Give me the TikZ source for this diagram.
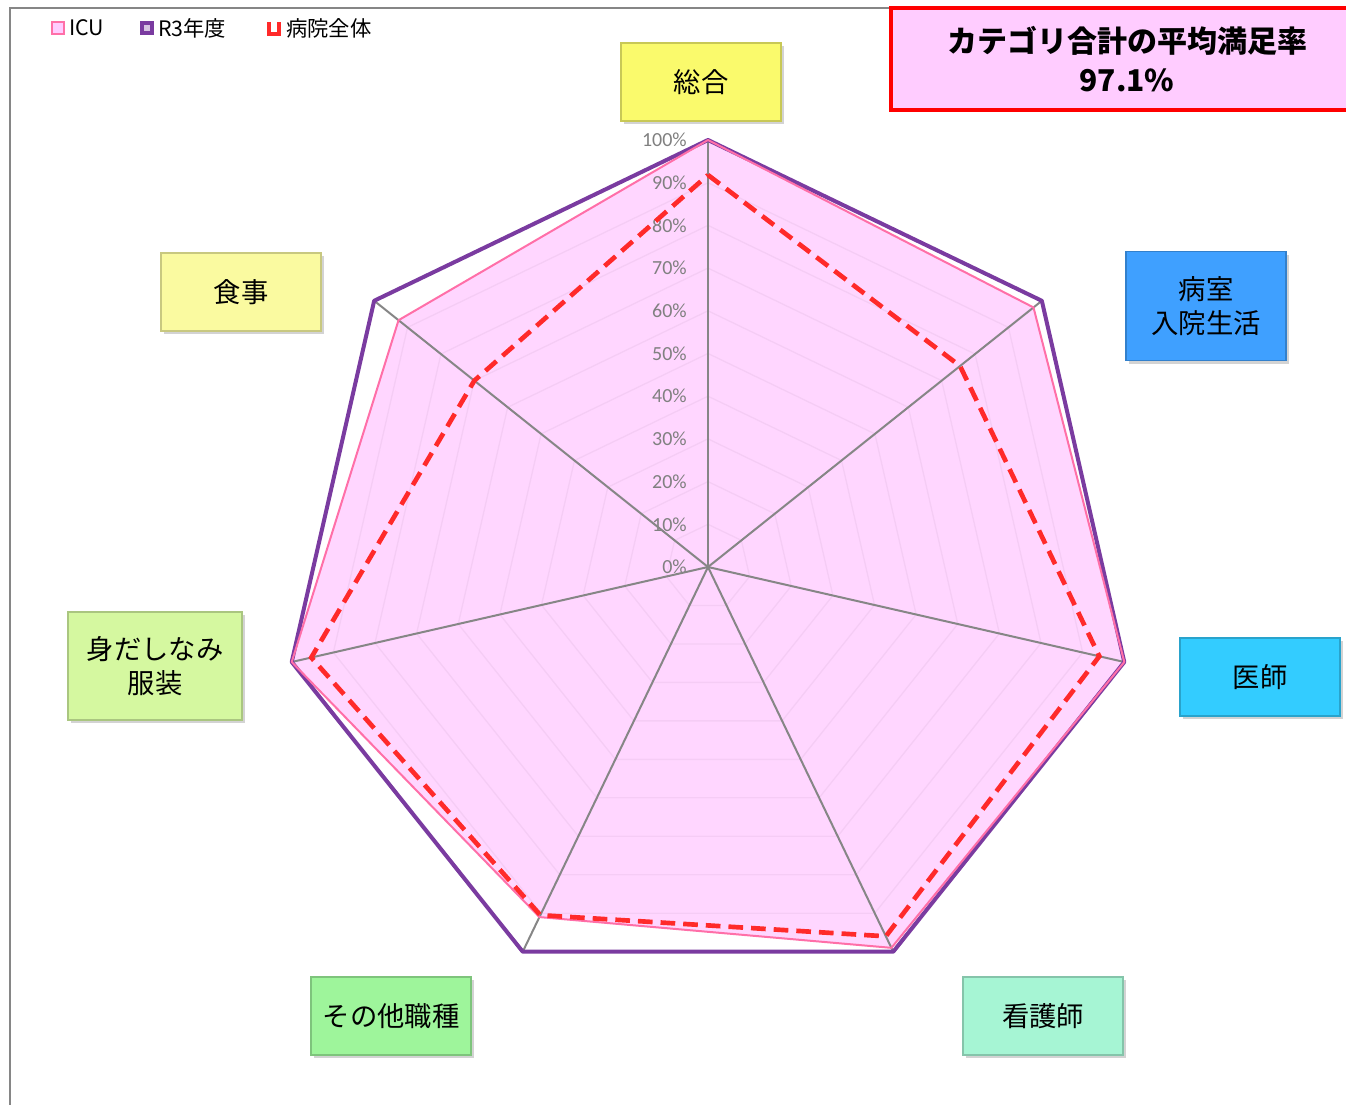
\documentclass[tikz,border=0pt]{standalone}
\usepackage{fontspec}
\setmainfont{Noto Sans CJK JP}
\newfontfamily\tickfont{Carlito}
\usepackage{tikz}
\usetikzlibrary{positioning,shadows}

\definecolor{icupink}{HTML}{FF6FA8}
\definecolor{icufill}{HTML}{FFCCFF}
\definecolor{rpurple}{HTML}{7A3BA0}
\definecolor{hospred}{HTML}{FF2A2A}
\definecolor{spokegray}{HTML}{868686}
\definecolor{gridgray}{HTML}{CFCFCF}
\definecolor{sogofill}{HTML}{FAFA6C}
\definecolor{byoshitsufill}{HTML}{3FA0FF}
\definecolor{ishifill}{HTML}{33CCFF}
\definecolor{kangofill}{HTML}{A6F5D4}
\definecolor{sonotafill}{HTML}{9EF59B}
\definecolor{midashifill}{HTML}{D5F8A0}
\definecolor{shokujifill}{HTML}{FAFAA0}

\tikzset{
  catbox/.style={draw=#1!80!black, fill=#1, line width=0.8pt, minimum width=120pt, minimum height=58.5pt,
    align=center, font=\fontsize{20.5}{26}\selectfont, drop shadow={shadow xshift=2pt, shadow yshift=-2.5pt, opacity=0.35}},
  ticklabel/.style={anchor=east, inner sep=0pt, text=gray, font=\tickfont\fontsize{15}{15}\selectfont},
  legendtext/.style={anchor=west, inner sep=0pt, font=\fontsize{16}{16}\selectfont},
  gridline/.style={draw=gridgray, line width=1pt},
  spoke/.style={draw=spokegray, line width=1.5pt}
}

\begin{document}
\begin{tikzpicture}[x=0.75pt, y=-0.75pt]
	\useasboundingbox (0,0) rectangle (1346,1105);
	\clip (0,0) rectangle (1346,1105);
	
	\draw[spokegray, line width=1pt] (10,1110) -- (10,8) -- (1350,8);
	
	\begin{scope}[shift={(708,567)}]
		% grid every 10%
		\foreach \i in {1,...,10}
		\draw[gridline] (-90:42.7*\i) \foreach \k in {1,...,6}{ -- ({-90+360/7*\k}:42.7*\i)} -- cycle;
		
		\foreach \v [count=\k from 0] in {100,97.5,100,99,91,100,92.7}
		\coordinate (icu\k) at ({-90+360/7*\k}:{4.27*\v});
		\foreach \v [count=\k from 0] in {100,100,100,100,100,100,100}
		\coordinate (rthree\k) at ({-90+360/7*\k}:{4.27*\v});
		\foreach \v [count=\k from 0] in {91.8,75.5,94,96,90.5,95.3,70}
		\coordinate (hosp\k) at ({-90+360/7*\k}:{4.27*\v});
		
		\fill[icufill, opacity=0.8] (icu0) -- (icu1) -- (icu2) -- (icu3) -- (icu4) -- (icu5) -- (icu6) -- cycle;
		\foreach \i in {0,...,10}
		\node[ticklabel] at (-21,-42.7*\i) {\the\numexpr\i*10\relax\%};
		\foreach \k in {0,...,6}
		\draw[spoke] (0,0) -- (rthree\k);
		\draw[rpurple, line width=3pt, line join=round] (rthree0) -- (rthree1) -- (rthree2) -- (rthree3) -- (rthree4) -- (rthree5) -- (rthree6) -- cycle;
		\draw[icupink, line width=1.5pt, line join=round] (icu0) -- (icu1) -- (icu2) -- (icu3) -- (icu4) -- (icu5) -- (icu6) -- cycle;
		\draw[hospred, line width=3.5pt, dash pattern=on 11pt off 6pt] (hosp0) -- (hosp1) -- (hosp2) -- (hosp3) -- (hosp4) -- (hosp5) -- (hosp6) -- cycle;
	\end{scope}
	
	% category labels
	\node[catbox=sogofill] (sogo) at (701,82) {総合};
	\node[catbox=byoshitsufill, minimum height=81.75pt] (byoshitsu) at (1206,306) {病室\\入院生活};
	\node[catbox=ishifill] (ishi) at (1260,677) {医師};
	\node[catbox=kangofill] (kango) at (1043,1016) {看護師};
	\node[catbox=sonotafill] (sonota) at (391,1016) {その他職種};
	\node[catbox=midashifill, minimum width=130.5pt, minimum height=81pt] (midashi) at (155,666) {身だしなみ\\服装};
	\node[catbox=shokujifill] (shokuji) at (241,292) {食事};
	
	\node[draw=red, line width=3pt, fill=icufill, minimum width=354pt, minimum height=76.5pt, align=center,
	font=\bfseries\fontsize{22.5}{29}\selectfont] (avgbox) at (1127,59) {カテゴリ合計の平均満足率\\97.1\%};
	
	% legend
	\draw[icupink, fill=icufill, line width=1.5pt] (52,22) rectangle (64,34);
	\node[legendtext] (lgicu) at (69,28) {ICU};
	\draw[rpurple, fill=rpurple!30, line width=2.5pt] (142,23) rectangle (152,33);
	\node[legendtext] (lgrthree) at (158,28) {R3年度};
	\draw[hospred, line width=3pt] (269,22) -- (269,34) -- (279,34) -- (279,22);
	\node[legendtext] (lghosp) at (286,28) {病院全体};
\end{tikzpicture}
\end{document}
